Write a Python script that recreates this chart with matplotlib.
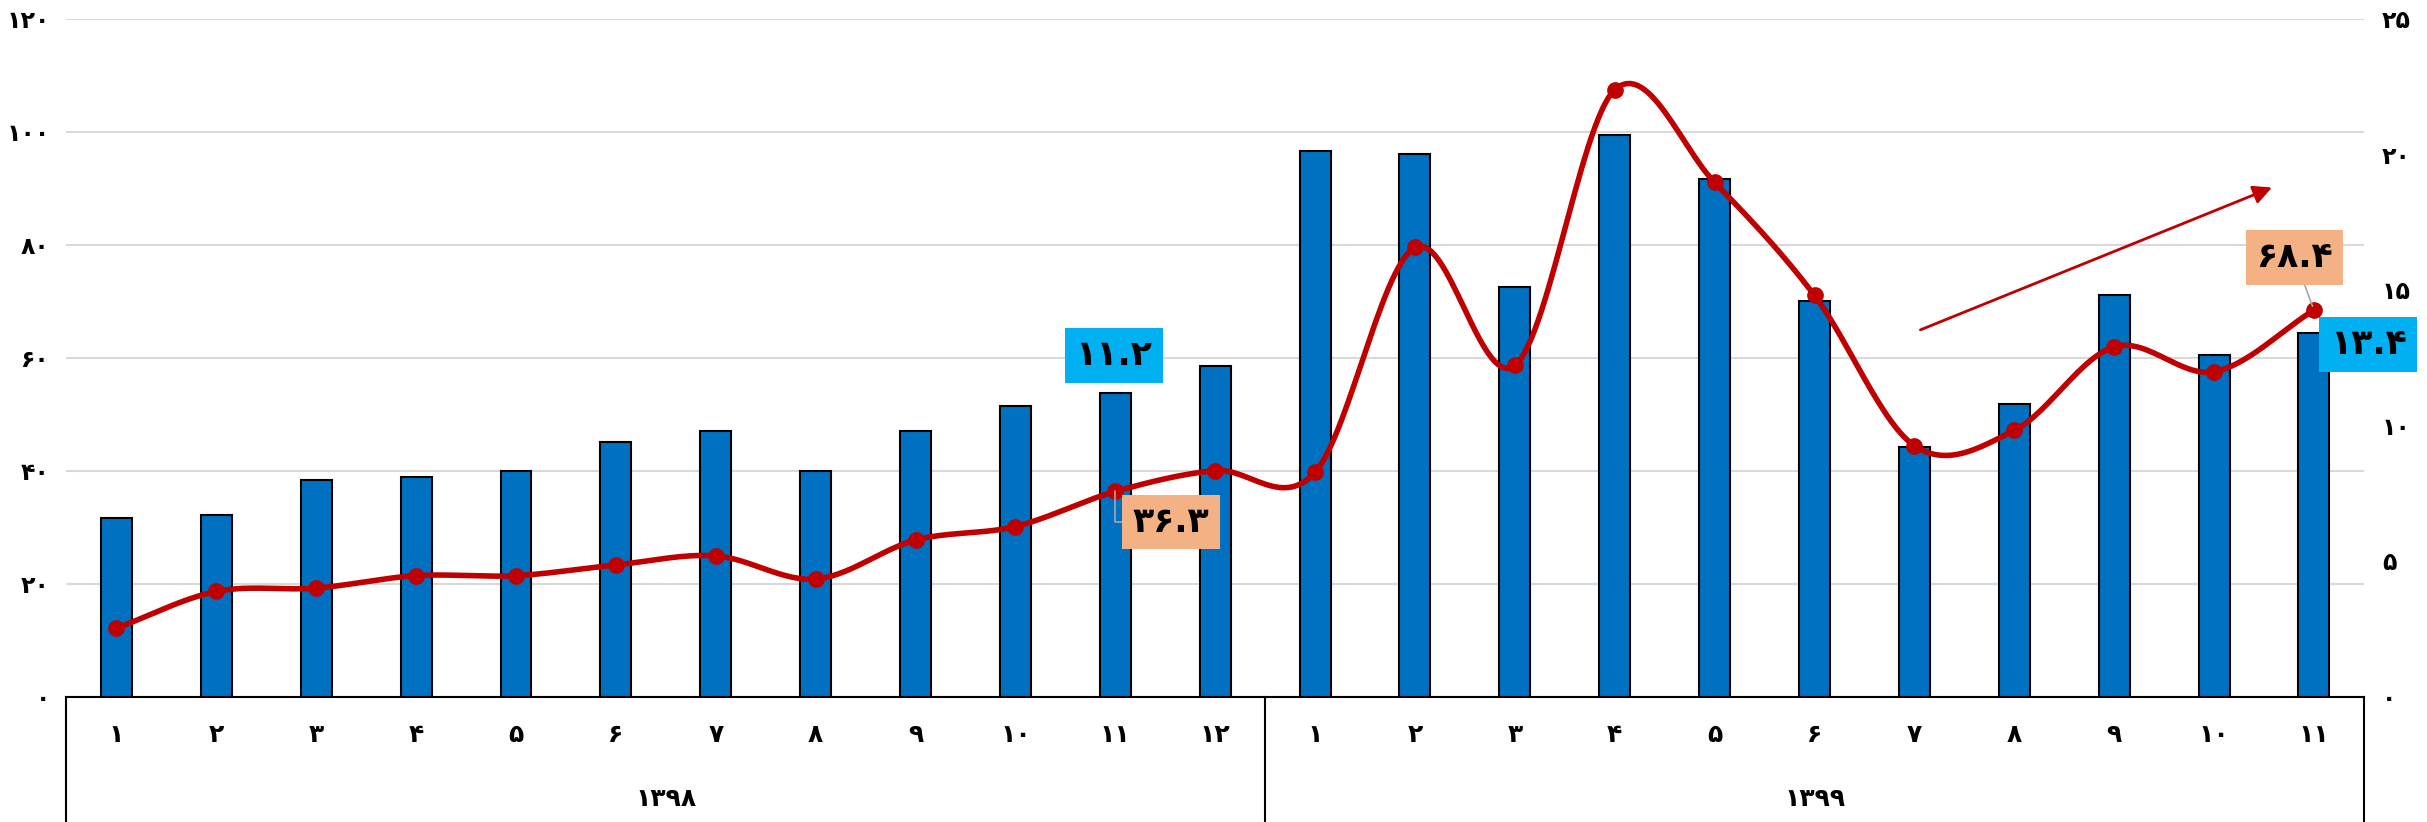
import numpy as np
import matplotlib
matplotlib.use('Agg')
import matplotlib.pyplot as plt
import matplotlib.transforms as mtransforms

plt.rcParams['font.family'] = ['DejaVu Sans']
plt.rcParams['font.weight'] = 'bold'

# data
YEARS = ['1398', '1399']
MONTHS_1398 = list(range(1, 13))
MONTHS_1399 = list(range(1, 12))
bars = [6.6, 6.7, 8.0, 8.1, 8.3, 9.4, 9.8, 8.3, 9.8, 10.7, 11.2, 12.2,
        20.1, 20.0, 15.1, 20.7, 19.1, 14.6, 9.2, 10.8, 14.8, 12.6, 13.4]
line = [12.1, 18.6, 19.2, 21.4, 21.4, 23.3, 24.9, 20.8, 27.7, 30.1, 36.3, 40.0,
        39.7, 79.5, 58.6, 107.4, 91.0, 71.0, 44.4, 47.1, 61.9, 57.5, 68.4]
left_ticks = [0, 20, 40, 60, 80, 100, 120]
right_ticks = [0, 5, 10, 15, 20, 25]

BAR_COLOR = '#0070C0'
LINE_COLOR = '#C00000'
BLUE_BOX = '#00B0F0'
ORANGE_BOX = '#F4B183'
FA = str.maketrans('0123456789', '۰۱۲۳۴۵۶۷۸۹')


def fa(v):
    return str(v).translate(FA)


def smooth(x, y, n=30):
    # catmull-rom style smoothing, close to excel's smoothed line
    x = np.asarray(x, float)
    y = np.asarray(y, float)
    m = np.gradient(y, x)
    m[1:-1] = (y[2:] - y[:-2]) / (x[2:] - x[:-2])
    xs, ys = [], []
    for i in range(len(x) - 1):
        t = np.linspace(0, 1, n, endpoint=False)
        h = x[i + 1] - x[i]
        h00 = 2 * t**3 - 3 * t**2 + 1
        h10 = t**3 - 2 * t**2 + t
        h01 = -2 * t**3 + 3 * t**2
        h11 = t**3 - t**2
        xs.append(x[i] + t * h)
        ys.append(h00 * y[i] + h10 * h * m[i] + h01 * y[i + 1] + h11 * h * m[i + 1])
    xs.append([x[-1]])
    ys.append([y[-1]])
    return np.concatenate(xs), np.concatenate(ys)


months = MONTHS_1398 + MONTHS_1399
x = np.arange(len(months))

fig = plt.figure(figsize=(24.27, 8.22), dpi=100)
ax = fig.add_axes([0.0274, 0.1526, 0.9466, 0.8248])
axb = ax.twinx()
axl = ax.twinx()

# left axis: gridlines + labels
ax.set_ylim(0, 120)
ax.set_yticks(left_ticks)
ax.set_yticklabels([fa(t) for t in left_ticks], fontsize=17, fontweight='bold')
ax.grid(axis='y', color='#D9D9D9', lw=1.5)
ax.tick_params(axis='y', length=0, pad=12)
ax.set_xlim(-0.5, len(months) - 0.5)
ax.set_xticks(x)
ax.set_xticklabels([fa(m) for m in months], fontsize=18, fontweight='bold')
ax.tick_params(axis='x', length=0, pad=19)
for s in ['left', 'right', 'top']:
    ax.spines[s].set_visible(False)
ax.spines['bottom'].set_linewidth(1.5)

# bars on right axis
axb.bar(x, bars, width=0.31, color=BAR_COLOR, edgecolor='black', linewidth=1.5, zorder=2)
axb.set_ylim(0, 25)
axb.set_yticks(right_ticks)
axb.set_yticklabels([fa(t) for t in right_ticks], fontsize=17, fontweight='bold')
axb.tick_params(axis='y', length=0, pad=13)
for s in axb.spines.values():
    s.set_visible(False)

# smoothed line on left scale
axl.set_ylim(0, 120)
axl.set_yticks([])
for s in axl.spines.values():
    s.set_visible(False)
sx, sy = smooth(x, line)
axl.plot(sx, sy, color=LINE_COLOR, lw=4.0, zorder=3, solid_capstyle='round')
axl.plot(x, line, 'o', color=LINE_COLOR, ms=11, zorder=4)

# trend arrow
axl.annotate('', xy=(21.58, 90.1), xytext=(18.06, 64.9),
             arrowprops=dict(arrowstyle='-|>', color=LINE_COLOR, lw=2, mutation_scale=28,
                             shrinkA=0, shrinkB=0))

# data labels
lab_kw = dict(textcoords='offset points', ha='center', va='center', fontsize=25,
              fontweight='bold', annotation_clip=False, zorder=6)
box = 'square,pad=0.3'
axb.annotate(fa(bars[10]), xy=(10, bars[10]), xytext=(-1, 27),
             bbox=dict(boxstyle=box, fc=BLUE_BOX, ec='none'), **lab_kw)
axb.annotate(fa(bars[22]), xy=(22, bars[22]), xytext=(39, -8),
             bbox=dict(boxstyle=box, fc=BLUE_BOX, ec='none'), **lab_kw)
axl.annotate(fa(line[10]), xy=(10, line[10]), xytext=(40, -22),
             bbox=dict(boxstyle=box, fc=ORANGE_BOX, ec='none'),
             arrowprops=dict(arrowstyle='-', color='#A6A6A6', lw=1.2, shrinkA=0, shrinkB=0,
                             connectionstyle='angle,angleA=180,angleB=90,rad=0'), **lab_kw)
axl.annotate(fa(line[22]), xy=(22, line[22]), xytext=(-14, 38),
             bbox=dict(boxstyle=box, fc=ORANGE_BOX, ec='none'),
             arrowprops=dict(arrowstyle='-', color='#A6A6A6', lw=1.2, shrinkA=0, shrinkB=3),
             **lab_kw)

# multi-level category axis
trans = mtransforms.blended_transform_factory(ax.transData, ax.transAxes)
bottom = -0.185
for xb in [-0.5, len(MONTHS_1398) - 0.5, len(months) - 0.5]:
    ax.plot([xb, xb], [0, bottom], color='black', lw=1.5, transform=trans, clip_on=False)
centers = [(len(MONTHS_1398) - 1) / 2, len(MONTHS_1398) + (len(MONTHS_1399) - 1) / 2]
for c, yr in zip(centers, YEARS):
    ax.text(c, -0.151, fa(yr), transform=trans, ha='center', va='center',
            fontsize=18, fontweight='bold')

fig.savefig('out.png', dpi=100)
